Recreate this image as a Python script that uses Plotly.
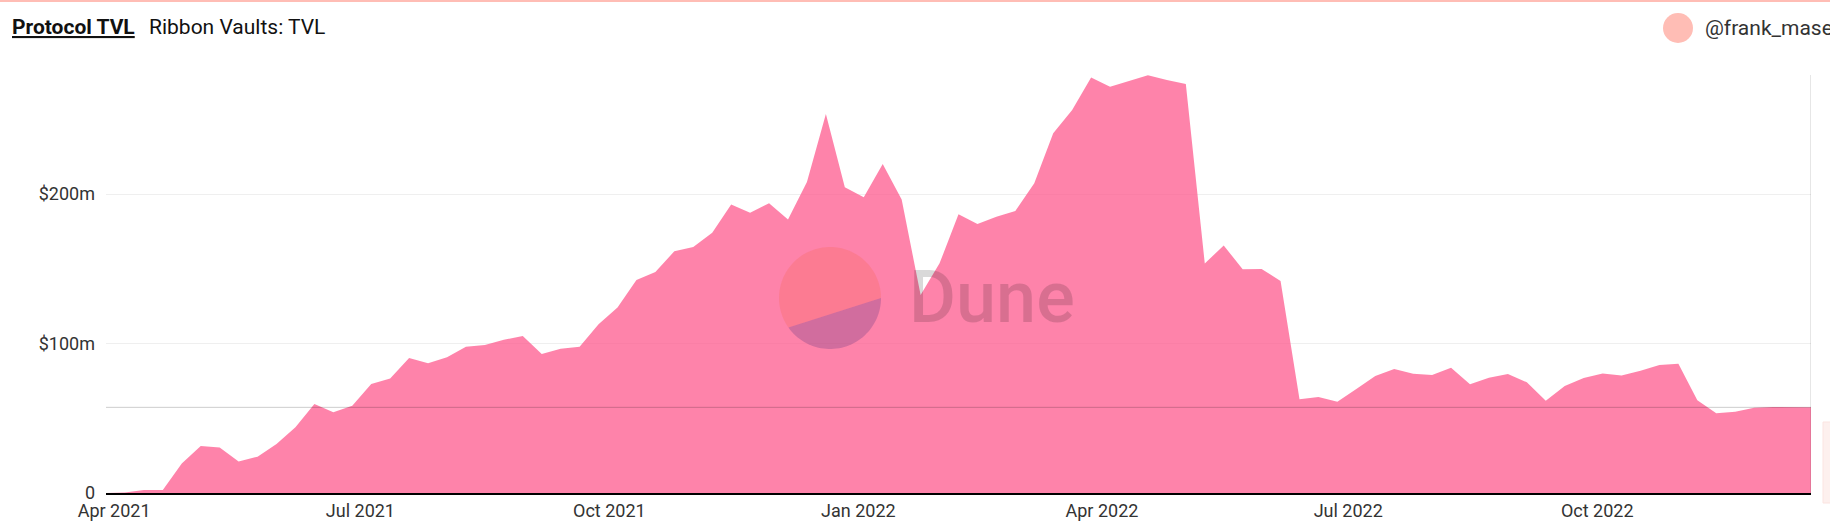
import numpy as np
import pandas as pd
import plotly.graph_objects as go

# ---- data ----
start_date = "2021-03-29"
tvl_musd = [
    0.0, 0.4, 2.0, 2.0, 19.8, 31.4, 30.5, 21.0, 24.3, 32.8,
    44.0, 59.5, 54.0, 58.4, 72.9, 76.6, 90.3, 86.8, 90.8, 97.9,
    99.0, 102.5, 105.0, 93.0, 96.5, 97.9, 112.8, 124.0, 142.5, 147.8,
    161.7, 164.5, 174.0, 193.0, 187.5, 193.8, 183.0, 208.0, 253.5, 204.5,
    197.8, 220.0, 196.4, 132.4, 153.6, 186.4, 180.0, 184.8, 188.6, 207.2,
    240.6, 256.2, 278.0, 271.8, 275.6, 279.4, 276.3, 273.6, 153.5, 165.6,
    149.6, 149.8, 141.8, 62.7, 64.2, 61.1, 69.6, 78.3, 82.9, 79.8,
    78.9, 83.8, 72.7, 77.1, 79.6, 74.0, 61.7, 71.6, 77.0, 80.0,
    78.6, 81.7, 85.6, 86.4, 62.0, 53.3, 54.4, 57.1, 57.5, 57.3,
    57.3,
]
dates = pd.date_range(start_date, periods=len(tvl_musd), freq="7D")
tvl = [v * 1e6 for v in tvl_musd]

x_tick_vals = ["2021-04-01", "2021-07-01", "2021-10-01", "2022-01-01",
               "2022-04-01", "2022-07-01", "2022-10-01"]
x_tick_text = ["Apr 2021", "Jul 2021", "Oct 2021", "Jan 2022",
               "Apr 2022", "Jul 2022", "Oct 2022"]
y_tick_vals = [0, 100e6, 200e6]
y_tick_text = ["0", "$100m", "$200m"]

tab_active = "Protocol TVL"
tab_title = "Ribbon Vaults: TVL"
author = "@frank_mase"

FONT = "Roboto"
W, H = 1830, 526
ML, MR, MT, MB = 106, 19, 75, 33
PW, PH = W - ML - MR, H - MT - MB

fig = go.Figure()
fig.add_trace(go.Scatter(
    x=dates, y=tvl, mode="lines", fill="tozeroy",
    line=dict(width=0, color="rgba(254,90,142,0.75)"),
    fillcolor="rgba(254,90,142,0.75)",
    hoverinfo="skip", showlegend=False,
))

def px_x(p):
    return (p - ML) / PW

def px_y(p):
    return (H - MB - p) / PH

shapes = []
# crosshair (hover) lines at the last point
shapes.append(dict(type="line", xref="x", yref="paper", x0=dates[-1], x1=dates[-1],
                   y0=0, y1=1, line=dict(color="rgba(0,0,0,0.2)", width=1), layer="above"))
shapes.append(dict(type="line", xref="paper", yref="y", x0=0, x1=1,
                   y0=tvl[-1], y1=tvl[-1], line=dict(color="rgba(0,0,0,0.2)", width=1), layer="above"))

# Dune watermark logo (two-tone circle)
r = 51
split_a = np.deg2rad(215.5)
ang_up = np.linspace(0, split_a, 60)
ang_lo = np.linspace(split_a, 2 * np.pi, 50)
def poly(angles):
    pts = [f"{r*np.cos(a):.2f},{r*np.sin(a):.2f}" for a in angles]
    return "M" + " L".join(pts) + " Z"
for angles, col in [(ang_up, "rgba(244,96,62,0.22)"), (ang_lo, "rgba(30,24,112,0.2)")]:
    shapes.append(dict(type="path", xref="paper", yref="paper",
                       xsizemode="pixel", ysizemode="pixel",
                       xanchor=px_x(830), yanchor=px_y(298),
                       path=poly(angles), fillcolor=col, line=dict(width=0), layer="above"))

# top border
shapes.append(dict(type="rect", xref="paper", yref="paper",
                   x0=px_x(0), x1=px_x(W), y0=px_y(2), y1=px_y(0),
                   fillcolor="rgb(255,189,181)", line=dict(width=0)))
# author avatar
shapes.append(dict(type="circle", xref="paper", yref="paper",
                   xsizemode="pixel", ysizemode="pixel",
                   xanchor=px_x(1678), yanchor=px_y(28),
                   x0=-15, x1=15, y0=-15, y1=15,
                   fillcolor="rgb(255,189,181)", line=dict(width=0)))
# tooltip fragment at right edge
shapes.append(dict(type="rect", xref="paper", yref="paper",
                   x0=px_x(1823), x1=px_x(1845), y0=px_y(503), y1=px_y(422),
                   fillcolor="#fdf0ee", line=dict(color="#fbe4e1", width=1)))

annotations = [
    dict(text=f"<b><u>{tab_active}</u></b>", xref="paper", yref="paper",
         x=px_x(10), y=px_y(27), xanchor="left", yanchor="middle", showarrow=False,
         font=dict(family=FONT, size=21, color="#111")),
    dict(text=tab_title, xref="paper", yref="paper",
         x=px_x(147), y=px_y(27), xanchor="left", yanchor="middle", showarrow=False,
         font=dict(family=FONT, size=21, color="#111")),
    dict(text=author, xref="paper", yref="paper",
         x=px_x(1703), y=px_y(28), xanchor="left", yanchor="middle", showarrow=False,
         font=dict(family=FONT, size=21, color="#333")),
    dict(text="Dune", xref="paper", yref="paper",
         x=px_x(992), y=px_y(297), xanchor="center", yanchor="middle", showarrow=False,
         font=dict(family=FONT, size=72, color="rgba(0,0,0,0.15)", weight=500)),
]

fig.update_layout(
    width=W, height=H,
    margin=dict(l=ML, r=MR, t=MT, b=MB, pad=0, autoexpand=False),
    paper_bgcolor="white", plot_bgcolor="white",
    font=dict(family=FONT, size=18, color="#333"),
    shapes=shapes, annotations=annotations,
    showlegend=False,
    xaxis=dict(
        type="date", range=[dates[0], dates[-1]],
        tickmode="array", tickvals=x_tick_vals, ticktext=x_tick_text,
        showgrid=False, zeroline=False,
        showline=True, linecolor="#000", linewidth=2,
        ticks="", tickfont=dict(family=FONT, size=18, color="#333"),
        automargin=False, fixedrange=True,
    ),
    yaxis=dict(
        range=[0, 279.6e6],
        tickmode="array", tickvals=y_tick_vals, ticktext=y_tick_text,
        showgrid=True, gridcolor="#efefef", gridwidth=1,
        zeroline=False, showline=False, ticks="",
        ticklabelstandoff=10,
        tickfont=dict(family=FONT, size=18, color="#333"),
        automargin=False, fixedrange=True,
    ),
)

fig.write_html(
    "out.html",
    config={"displayModeBar": False},
    post_script="document.body.style.margin='0';document.body.style.overflow='hidden';",
)
